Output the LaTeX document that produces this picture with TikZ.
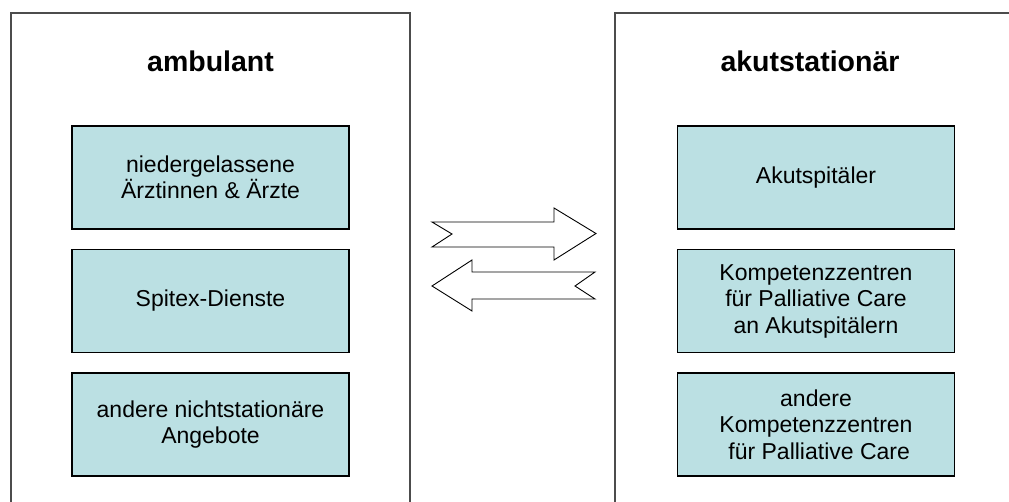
\documentclass[tikz,border=0pt]{standalone}
\usepackage{fontspec}
\setmainfont{Liberation Sans}
\usepackage{tikz}

\definecolor{boxfill}{HTML}{BBE0E3}

\begin{document}
\begin{tikzpicture}[x=1pt,y=-1pt,
		panel/.style={draw=black!70,line width=1.3pt},
		angebot/.style={draw,fill=boxfill,line width=1.2pt,minimum width=277pt,minimum height=103pt,inner sep=0pt,align=center,font=\fontsize{23}{26.5}\selectfont},
		titel/.style={anchor=base,font=\fontsize{28.5}{32}\selectfont\bfseries},
		blockpfeil/.style={draw,fill=white,line width=0.9pt,line join=miter}]
		\useasboundingbox (0,0) rectangle (1009,502);
		\draw[panel] (11,520) -- (11,13) -- (410,13) -- (410,520);
		\draw[panel] (615,520) -- (615,13) -- (1030,13);
		\node[titel] (amb) at (210.5,72) {ambulant};
		\node[titel] (akut) at (810,72) {akutstationär};
		\node[angebot] (a1) at (210.5,177.5) {niedergelassene\\Ärztinnen \& Ärzte};
		\node[angebot] (a2) at (210.5,301) {Spitex-Dienste};
		\node[angebot] (a3) at (210.5,424.5) {andere nichtstationäre\\Angebote};
		\node[angebot] (s1) at (816,177.5) {Akutspitäler};
		\node[angebot] (s2) at (816,301) {Kompetenzzentren\\für Palliative Care\\an Akutspitälern};
		\node[angebot] (s3) at (816,424.5) {andere\\Kompetenzzentren\\\hphantom{x}\hspace{-0.5em}\ für Palliative Care};
		\draw[blockpfeil] (432,222) -- (554,222) -- (554,208) -- (596,233.5) -- (554,260) -- (554,247) -- (432,247) -- (452,234) -- cycle;
		\draw[blockpfeil] (432,286) -- (472,260) -- (472,272) -- (595,272) -- (575,286) -- (595,299) -- (472,299) -- (472,311) -- cycle;
	\end{tikzpicture}
\end{document}
